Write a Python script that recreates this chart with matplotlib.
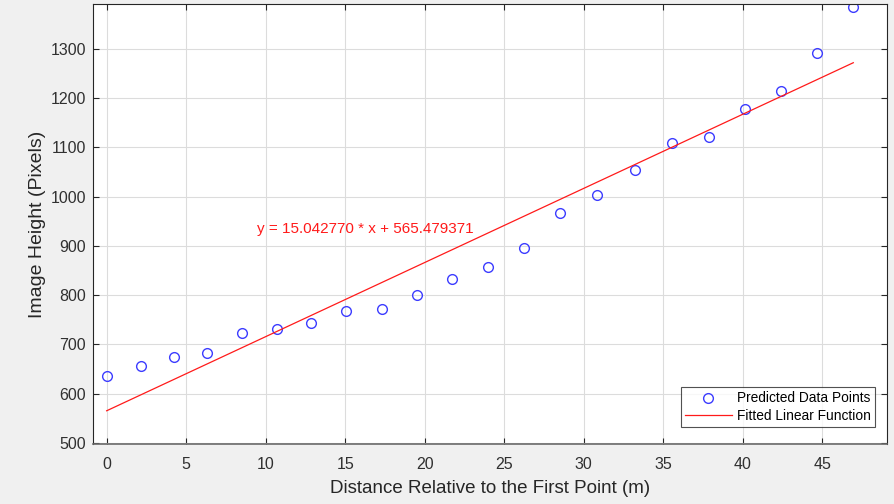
import matplotlib
matplotlib.use("Agg")
import matplotlib.pyplot as plt
import numpy as np

plt.rcParams['font.family'] = ['Liberation Sans', 'DejaVu Sans']

distance_m = [0.0, 2.16, 4.26, 6.34, 8.5, 10.7, 12.85, 15.05, 17.3, 19.5, 21.7,
              24.0, 26.25, 28.5, 30.85, 33.2, 35.57, 37.88, 40.14, 42.4, 44.67, 46.96]
image_height_px = [636, 656, 674, 682, 723, 731, 744, 767, 773, 800, 833,
                   857, 896, 967, 1003, 1054, 1109, 1122, 1177, 1215, 1291, 1385]
slope = 15.042770
intercept = 565.479371
x_ticks = [0, 5, 10, 15, 20, 25, 30, 35, 40, 45]
y_ticks = [500, 600, 700, 800, 900, 1000, 1100, 1200, 1300]

fig = plt.figure(figsize=(8.94, 5.04), dpi=100, facecolor='#f0f0f0')
ax = fig.add_axes([0.104, 0.119, 0.888, 0.873])
ax.set_facecolor('white')

ax.plot(distance_m, image_height_px, 'o', linestyle='none', markersize=7,
        markerfacecolor='none', markeredgecolor='#3c3cff', markeredgewidth=1.0,
        label='Predicted Data Points')
xf = np.array([distance_m[0], distance_m[-1]])
ax.plot(xf, slope * xf + intercept, '-', color='#ff1a1a', linewidth=0.9,
        label='Fitted Linear Function')

ax.text(9.45, 934, 'y = %f * x + %f' % (slope, intercept), color='#ff1a1a',
        fontsize=11, ha='left', va='center')

ax.set_xlim(-0.86, 49.07)
ax.set_ylim(498, 1391)
ax.set_xticks(x_ticks)
ax.set_yticks(y_ticks)
ax.grid(True, color='#dcdcdc', linewidth=0.8)
ax.set_axisbelow(True)
ax.tick_params(direction='in', top=True, right=True, length=4, width=0.8,
               colors='#262626', labelsize=11.5, labelcolor='#303030')
ax.tick_params(axis='x', pad=9)
ax.tick_params(axis='y', pad=5)
for s in ax.spines.values():
    s.set_color('#262626')
    s.set_linewidth(0.8)
ax.spines['bottom'].set_color('#6a6a6a')
ax.spines['bottom'].set_linewidth(1.2)

ax.set_xlabel('Distance Relative to the First Point (m)', fontsize=13.5,
              color='#262626', labelpad=6)
ax.set_ylabel('Image Height (Pixels)', fontsize=14, color='#262626', labelpad=3)

leg = ax.legend(loc='lower right', bbox_to_anchor=(875 / 894, (504 - 427) / 504),
                bbox_transform=fig.transFigure, borderaxespad=0,
                fontsize=9.9, frameon=True, fancybox=False,
                edgecolor='#262626', handlelength=3.35,
                borderpad=0.3, labelspacing=0.25, handletextpad=0.4)
leg.get_frame().set_linewidth(0.8)

fig.savefig('out.png', dpi=100, facecolor=fig.get_facecolor())
